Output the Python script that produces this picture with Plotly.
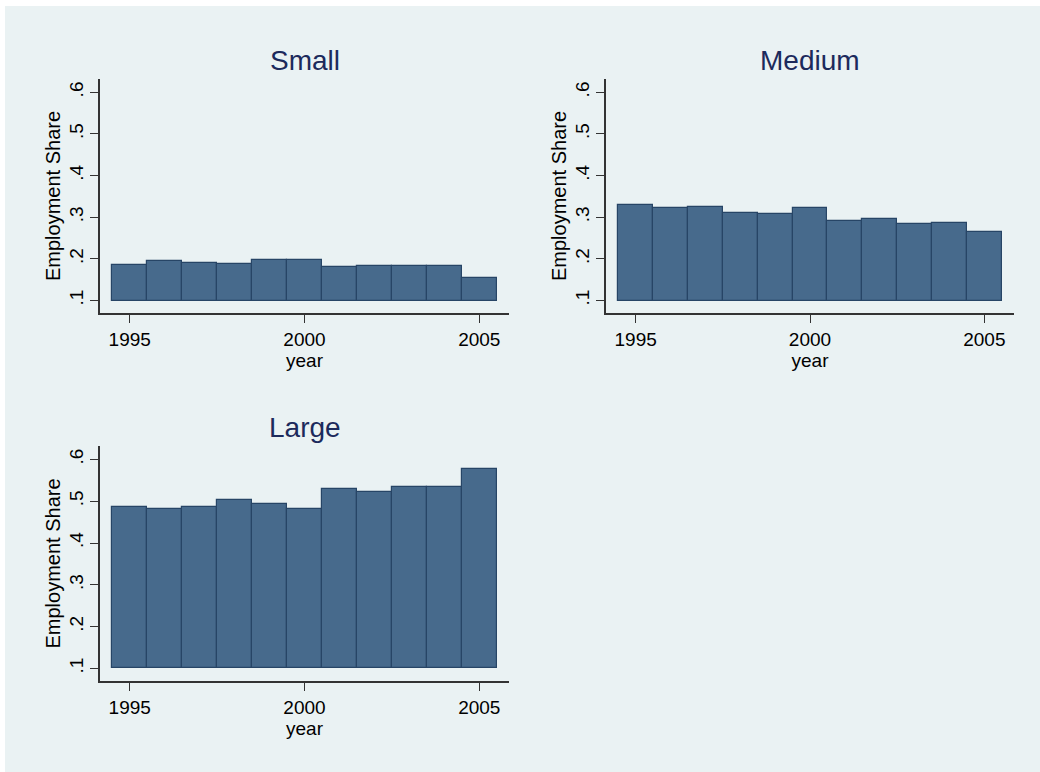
import plotly.graph_objects as go

years = [1995, 1996, 1997, 1998, 1999, 2000, 2001, 2002, 2003, 2004, 2005]
small = [0.185, 0.196, 0.189, 0.188, 0.198, 0.197, 0.180, 0.183, 0.183, 0.183, 0.155]
medium = [0.330, 0.322, 0.325, 0.310, 0.308, 0.322, 0.292, 0.295, 0.284, 0.286, 0.265]
large = [0.486, 0.482, 0.486, 0.502, 0.494, 0.482, 0.530, 0.523, 0.534, 0.533, 0.578]
panel_titles = ["Small", "Medium", "Large"]
y_tickvals = [0.1, 0.2, 0.3, 0.4, 0.5, 0.6]
y_ticktext = [".1", ".2", ".3", ".4", ".5", ".6"]
x_tickvals = [1995, 2000, 2005]
base_value = 0.1

W, H = 1040, 772
BG = "#EAF2F3"
BAR = "#476A8C"
EDGE = "#274566"
TITLE_C = "#1C2A5C"
FONT = "Liberation Sans, Arial, sans-serif"

# panel boxes in pixels: (left, right, top, bottom)
boxes = [(100, 509, 79, 313), (606, 1014, 79, 313), (100, 509, 446, 681)]

fig = go.Figure()
series = [small, medium, large]
for i, (vals, box) in enumerate(zip(series, boxes)):
    xa = "x" if i == 0 else f"x{i+1}"
    ya = "y" if i == 0 else f"y{i+1}"
    fig.add_trace(go.Bar(
        x=years, y=[v - base_value for v in vals], base=base_value,
        width=1, marker=dict(color=BAR, line=dict(color=EDGE, width=1.2)),
        xaxis=xa, yaxis=ya, showlegend=False,
        hovertemplate="%{x}: %{customdata}<extra></extra>", customdata=vals,
    ))
    l, r, t, b = box
    xkey = "xaxis" if i == 0 else f"xaxis{i+1}"
    ykey = "yaxis" if i == 0 else f"yaxis{i+1}"
    fig.update_layout(**{
        xkey: dict(
            domain=[l / W, r / W], anchor=ya, range=[1994.15, 2005.85],
            tickvals=x_tickvals, ticks="outside", ticklen=8, tickcolor="#333",
            showline=True, linecolor="#333", linewidth=1.5, showgrid=False,
            zeroline=False, tickfont=dict(family=FONT, size=19, color="#000"),
            title=dict(text="year", font=dict(family=FONT, size=19, color="#000"), standoff=0),
        ),
        ykey: dict(
            domain=[1 - b / H, 1 - t / H], anchor=xa, range=[0.07, 0.632],
            tickvals=y_tickvals, ticktext=y_ticktext, tickangle=-90,
            ticks="outside", ticklen=8, tickcolor="#333",
            showline=True, linecolor="#333", linewidth=1.5,
            showgrid=True, gridcolor=BG, gridwidth=2, zeroline=False,
            tickfont=dict(family=FONT, size=19, color="#000"),
            title=dict(text="Employment Share", font=dict(family=FONT, size=20, color="#000"), standoff=0),
        ),
    })
    fig.add_annotation(
        text=panel_titles[i], xref="paper", yref="paper",
        x=(l + r) / 2 / W, y=1 - (t - 19) / H, xanchor="center", yanchor="middle",
        showarrow=False, font=dict(family=FONT, size=28, color=TITLE_C),
    )

fig.add_shape(type="rect", xref="paper", yref="paper", x0=5 / W, x1=1.02, y0=-0.02, y1=1 - 6 / H,
              fillcolor=BG, line=dict(width=0), layer="below")

fig.update_layout(
    width=W, height=H, margin=dict(l=0, r=0, t=0, b=0),
    paper_bgcolor="white", plot_bgcolor="white", bargap=0,
    font=dict(family=FONT),
)

fig.write_html("out.html", config={"displayModeBar": False},
               post_script="document.body.style.margin='0';document.body.style.overflow='hidden';"
                           "document.body.style.background='" + BG + "';")
